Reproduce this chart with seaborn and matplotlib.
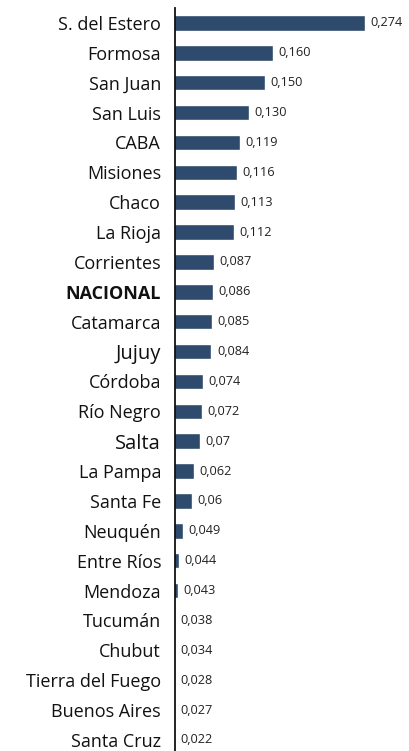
import matplotlib
matplotlib.use('Agg')
import matplotlib.pyplot as plt
import seaborn as sns
import pandas as pd

provincias = ['S. del Estero', 'Formosa', 'San Juan', 'San Luis', 'CABA', 'Misiones',
              'Chaco', 'La Rioja', 'Corrientes', 'NACIONAL', 'Catamarca', 'Jujuy',
              'Córdoba', 'Río Negro', 'Salta', 'La Pampa', 'Santa Fe', 'Neuquén',
              'Entre Ríos', 'Mendoza', 'Tucumán', 'Chubut', 'Tierra del Fuego',
              'Buenos Aires', 'Santa Cruz']
valores = [0.274, 0.160, 0.150, 0.130, 0.119, 0.116, 0.113, 0.112, 0.087, 0.086,
           0.085, 0.084, 0.074, 0.072, 0.07, 0.062, 0.06, 0.049, 0.044, 0.043,
           0.038, 0.034, 0.028, 0.027, 0.022]
etiquetas = ['0,274', '0,160', '0,150', '0,130', '0,119', '0,116', '0,113', '0,112',
             '0,087', '0,086', '0,085', '0,084', '0,074', '0,072', '0,07', '0,062',
             '0,06', '0,049', '0,044', '0,043', '0,038', '0,034', '0,028', '0,027',
             '0,022']

df = pd.DataFrame({'provincia': provincias, 'valor': valores})

sns.set_style('white')
plt.rcParams['font.family'] = ['Open Sans', 'DejaVu Sans']

color = '#2E4A6C'
xmin, xmax = 0.039, 0.3295

fig = plt.figure(figsize=(4.10, 7.51), dpi=100)
ax = fig.add_axes([175 / 410, 0, 1 - 175 / 410, 743 / 751])

sns.barplot(data=df, x='valor', y='provincia', orient='h', color=color,
            width=0.52, saturation=1, ax=ax)

ax.set_xlim(xmin, xmax)
ax.set_ylim(24.37, -0.5)

# etiquetas de valor a la derecha de cada barra
for i, (v, t) in enumerate(zip(valores, etiquetas)):
    ax.annotate(t, xy=(max(v, xmin), i), xytext=(4, 0), textcoords='offset points',
                va='center', ha='left', fontsize=9.2, color='#222222')

ax.set_xlabel('')
ax.set_ylabel('')
ax.set_xticks([])
ax.tick_params(axis='y', length=0, pad=10)
for lbl in ax.get_yticklabels():
    lbl.set_fontsize(13)
    lbl.set_color('#111111')
    if lbl.get_text() == 'NACIONAL':
        lbl.set_fontweight('bold')
    if lbl.get_text() in ('Jujuy', 'Salta'):
        lbl.set_fontsize(14.5)

for s in ['top', 'right', 'bottom']:
    ax.spines[s].set_visible(False)
ax.spines['left'].set_color('#111111')
ax.spines['left'].set_linewidth(1.3)

fig.savefig('out.png', dpi=100)
